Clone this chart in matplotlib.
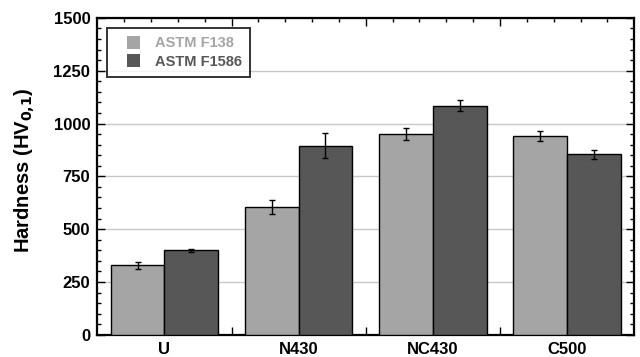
import numpy as np
import matplotlib.pyplot as plt
from matplotlib.ticker import MultipleLocator
from matplotlib.patches import Rectangle
from matplotlib.container import BarContainer
from matplotlib.legend_handler import HandlerPatch

plt.rcParams['font.family'] = ['Liberation Sans', 'DejaVu Sans']
plt.rcParams['font.weight'] = 'bold'

# Data
categories = ["U", "N430", "NC430", "C500"]
f138 = [330, 605, 950, 940]
f138_err = [16, 35, 30, 25]
f1586 = [400, 895, 1085, 855]
f1586_err = [6, 60, 27, 22]

light = "#a5a5a5"
dark = "#575757"

fig = plt.figure(figsize=(6.4, 3.57), dpi=100)
ax = fig.add_axes([0.152, 0.062, 0.839, 0.888])

x = np.arange(len(categories))
w = 0.4
ax.bar(x - w / 2, f138, w, color=light, edgecolor="black", linewidth=1.0,
       yerr=f138_err, capsize=2.5, error_kw=dict(elinewidth=1.0, capthick=1.0),
       label="ASTM F138", zorder=3)
ax.bar(x + w / 2, f1586, w, color=dark, edgecolor="black", linewidth=1.0,
       yerr=f1586_err, capsize=2.5, error_kw=dict(elinewidth=1.0, capthick=1.0),
       label="ASTM F1586", zorder=3)

ax.set_xlim(-0.5, 3.5)
ax.set_ylim(0, 1500)
ax.yaxis.set_major_locator(MultipleLocator(250))
ax.yaxis.set_minor_locator(MultipleLocator(50))
ax.set_xticks([0.5, 1.5, 2.5])
ax.set_xticklabels([])
ax.set_xticks(np.arange(-0.3, 3.4, 0.2), minor=True)
ax.tick_params(axis="both", which="both", direction="in", top=True, right=True, width=1.0)
ax.tick_params(axis="both", which="major", length=6)
ax.tick_params(axis="both", which="minor", length=3)
ax.tick_params(axis="y", labelsize=12, pad=5)
for lab in ax.get_yticklabels():
    lab.set_fontweight("bold")

# category names sit between the long ticks
for i, c in enumerate(categories):
    ax.text(i, -0.022, c, transform=ax.get_xaxis_transform(), ha="center", va="top",
            fontsize=12, fontweight="bold")

ax.yaxis.grid(True, color="#c8c8c8", linewidth=1.0, zorder=0)
ax.set_axisbelow(True)
for s in ax.spines.values():
    s.set_linewidth(1.6)

ax.set_ylabel("Hardness (HV$_{\\mathbf{0{,}1}}$)", fontsize=14.5, fontweight="bold")
ax.yaxis.set_label_coords(-0.112, 0.52)


# square legend patch pushed to the right end of a wider handle box
def square_patch(legend, orig_handle, xdescent, ydescent, width, height, fontsize):
    side = 0.9 * fontsize
    return Rectangle((width - side - xdescent, (height - side) / 2 - ydescent), side, side)


def from_first_bar(handle, orig):
    handle.update_from(orig.patches[0])


leg = ax.legend(loc="upper left", fontsize=10.5, frameon=True, fancybox=False,
                edgecolor="black", handlelength=1.7, handleheight=0.9,
                handletextpad=1.0, labelspacing=0.3, borderpad=0.55,
                bbox_to_anchor=(0.0186, 0.968), borderaxespad=0,
                handler_map={BarContainer: HandlerPatch(patch_func=square_patch,
                                                        update_func=from_first_bar)})
leg.get_frame().set_linewidth(1.4)
for t, col in zip(leg.get_texts(), [light, dark]):
    t.set_color(col)
    t.set_fontweight("bold")
for h in leg.legend_handles:
    h.set_edgecolor("none")

fig.savefig("out.png", dpi=100)
